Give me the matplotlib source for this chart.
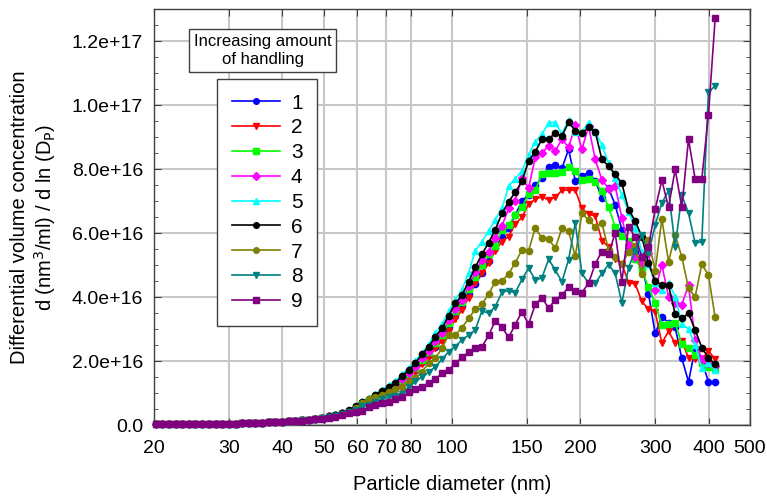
import matplotlib
matplotlib.use("Agg")
import matplotlib.pyplot as plt
from matplotlib.ticker import MultipleLocator, NullLocator, FuncFormatter

plt.rcParams['font.family'] = ['Liberation Sans', 'DejaVu Sans']

# particle diameters (nm), 64 channels per decade
diam = [20.2, 20.9, 21.7, 22.5, 23.3, 24.1, 25.0, 25.9, 26.9, 27.9, 28.9, 30.0, 31.1, 32.2,
        33.4, 34.6, 35.9, 37.2, 38.5, 40.0, 41.4, 42.9, 44.5, 46.1, 47.8, 49.6, 51.4, 53.3,
        55.2, 57.3, 59.4, 61.5, 63.8, 66.1, 68.5, 71.0, 73.7, 76.4, 79.1, 82.0, 85.1, 88.2,
        91.4, 94.7, 98.2, 101.8, 105.5, 109.4, 113.4, 117.6, 121.9, 126.3, 131.0, 135.8,
        140.7, 145.9, 151.2, 156.8, 162.5, 168.5, 174.7, 181.1, 187.7, 194.6, 201.7, 209.1,
        216.7, 224.7, 232.9, 241.4, 250.3, 259.5, 269.0, 278.8, 289.0, 299.6, 310.6, 322.0,
        333.8, 346.0, 358.7, 371.8, 385.4, 399.5, 414.2]

# dV/dlnDp in units of 1e16 nm^3/ml
s1 = [0.02, 0.02, 0.02, 0.02, 0.02, 0.025, 0.025, 0.03, 0.03, 0.035, 0.04, 0.04, 0.045, 0.05,
      0.06, 0.065, 0.07, 0.08, 0.09, 0.10, 0.115, 0.13, 0.15, 0.17, 0.20, 0.23, 0.26,
      0.29, 0.34, 0.42, 0.52, 0.66, 0.74, 0.85, 0.96, 1.07, 1.18, 1.36, 1.52, 1.72, 1.96,
      2.20, 2.45, 2.70, 3.05, 3.40, 3.72, 4.08, 4.40, 4.74, 5.14, 5.52, 5.89, 6.15, 6.55,
      7.00, 7.19, 7.50, 7.71, 8.07, 8.12, 8.02, 8.62, 7.63, 7.78, 7.89, 7.63, 7.10, 7.40,
      6.88, 6.10, 5.60, 5.40, 4.95, 4.10, 2.86, 3.39, 3.20, 3.05, 2.08, 1.35, 2.40, 2.00,
      1.35, 1.35]
s2 = [0.02, 0.02, 0.02, 0.02, 0.02, 0.025, 0.025, 0.03, 0.03, 0.035, 0.04, 0.04, 0.045, 0.05,
      0.06, 0.065, 0.07, 0.08, 0.09, 0.10, 0.115, 0.13, 0.15, 0.17, 0.20, 0.23, 0.26,
      0.29, 0.34, 0.41, 0.50, 0.63, 0.70, 0.82, 0.92, 1.03, 1.14, 1.32, 1.48, 1.66, 1.90,
      2.12, 2.40, 2.62, 2.95, 3.30, 3.60, 3.98, 4.45, 4.74, 5.05, 5.45, 5.73, 5.89, 6.28,
      6.49, 6.91, 7.05, 7.14, 7.03, 7.11, 7.34, 7.34, 7.34, 6.77, 6.59, 6.53, 5.76, 5.57,
      5.18, 5.03, 4.45, 4.41, 3.86, 3.62, 3.54, 2.56, 2.93, 2.55, 2.62, 2.10, 2.05, 2.05,
      2.32, 2.05]
s3 = [0.02, 0.02, 0.02, 0.02, 0.02, 0.025, 0.025, 0.03, 0.03, 0.035, 0.04, 0.04, 0.045, 0.05,
      0.06, 0.065, 0.07, 0.08, 0.09, 0.10, 0.115, 0.13, 0.15, 0.17, 0.20, 0.23, 0.26,
      0.30, 0.36, 0.44, 0.55, 0.68, 0.76, 0.88, 0.99, 1.10, 1.22, 1.42, 1.58, 1.78, 2.04,
      2.28, 2.55, 2.80, 3.18, 3.55, 3.85, 4.25, 4.62, 5.00, 5.34, 5.60, 6.10, 6.25, 6.56,
      6.80, 7.22, 7.34, 7.84, 7.89, 7.89, 7.92, 8.07, 7.94, 7.66, 7.70, 7.60, 7.30, 6.80,
      6.20, 5.92, 5.75, 5.20, 4.84, 4.30, 3.80, 3.12, 3.16, 3.20, 2.52, 2.42, 2.20, 1.95,
      1.82, 1.74]
s4 = [0.02, 0.02, 0.02, 0.02, 0.02, 0.025, 0.025, 0.03, 0.03, 0.035, 0.04, 0.04, 0.045, 0.05,
      0.06, 0.065, 0.07, 0.08, 0.09, 0.10, 0.115, 0.13, 0.15, 0.17, 0.20, 0.23, 0.27,
      0.31, 0.37, 0.45, 0.56, 0.70, 0.78, 0.90, 1.01, 1.13, 1.25, 1.45, 1.62, 1.82, 2.10,
      2.32, 2.62, 2.88, 3.28, 3.62, 3.92, 4.35, 4.79, 5.16, 5.42, 5.83, 6.22, 6.77, 7.01,
      7.71, 7.40, 8.36, 8.49, 8.73, 8.57, 8.93, 8.68, 9.36, 8.61, 9.34, 8.30, 7.66, 7.39,
      7.48, 6.46, 5.62, 5.25, 5.07, 5.37, 4.22, 5.00, 4.01, 3.81, 3.76, 4.37, 2.66, 2.05,
      1.95, 1.85]
s5 = [0.02, 0.02, 0.02, 0.02, 0.02, 0.025, 0.025, 0.03, 0.03, 0.035, 0.04, 0.04, 0.045, 0.05,
      0.06, 0.065, 0.07, 0.08, 0.09, 0.10, 0.115, 0.13, 0.15, 0.17, 0.20, 0.23, 0.27,
      0.33, 0.39, 0.48, 0.60, 0.75, 0.84, 0.97, 1.10, 1.24, 1.38, 1.58, 1.78, 2.00, 2.26,
      2.52, 2.86, 3.15, 3.55, 3.92, 4.22, 4.75, 5.45, 5.73, 6.07, 6.41, 6.77, 7.47, 7.70,
      7.93, 8.45, 8.85, 9.08, 9.45, 9.45, 9.10, 9.53, 9.17, 9.17, 9.45, 9.17, 8.75, 8.18,
      7.71, 7.19, 6.67, 6.15, 5.42, 5.02, 4.45, 4.22, 4.45, 4.01, 3.16, 3.00, 2.50, 1.77,
      1.93, 1.72]
s6 = [0.02, 0.02, 0.02, 0.02, 0.02, 0.025, 0.025, 0.03, 0.03, 0.035, 0.04, 0.04, 0.045, 0.05,
      0.06, 0.065, 0.07, 0.08, 0.09, 0.10, 0.115, 0.13, 0.15, 0.17, 0.20, 0.23, 0.27,
      0.32, 0.38, 0.47, 0.58, 0.72, 0.80, 0.94, 1.06, 1.18, 1.31, 1.54, 1.71, 1.93, 2.22,
      2.45, 2.76, 3.02, 3.42, 3.80, 4.06, 4.48, 4.93, 5.34, 5.70, 6.10, 6.62, 6.98, 7.27,
      7.62, 8.25, 8.54, 8.93, 8.95, 9.11, 9.03, 9.46, 9.20, 9.12, 9.30, 9.17, 8.30, 8.09,
      7.84, 7.55, 6.72, 6.38, 5.88, 5.05, 4.50, 4.37, 4.37, 3.46, 3.33, 3.49, 2.97, 2.42,
      2.10, 1.90]
s7 = [0.02, 0.02, 0.02, 0.02, 0.02, 0.025, 0.025, 0.03, 0.03, 0.035, 0.04, 0.04, 0.045, 0.05,
      0.06, 0.065, 0.07, 0.08, 0.09, 0.10, 0.115, 0.13, 0.15, 0.17, 0.20, 0.23, 0.26,
      0.29, 0.34, 0.42, 0.52, 0.70, 0.80, 0.87, 0.94, 1.04, 1.12, 1.20, 1.35, 1.48, 1.67,
      1.93, 2.08, 2.40, 2.81, 2.81, 3.04, 3.33, 3.62, 3.78, 4.09, 4.48, 4.50, 4.73, 5.07,
      5.47, 5.44, 6.17, 5.83, 5.80, 5.53, 6.15, 6.06, 5.27, 6.61, 6.41, 6.19, 6.30, 5.47,
      5.26, 5.03, 5.40, 5.58, 4.71, 5.77, 4.82, 6.44, 5.10, 5.94, 5.25, 4.27, 4.00, 5.03,
      4.68, 3.36]
s8 = [0.02, 0.02, 0.02, 0.02, 0.02, 0.025, 0.025, 0.03, 0.03, 0.035, 0.04, 0.04, 0.045, 0.05,
      0.06, 0.065, 0.07, 0.08, 0.09, 0.10, 0.115, 0.13, 0.15, 0.17, 0.20, 0.23, 0.25,
      0.28, 0.33, 0.40, 0.48, 0.58, 0.64, 0.72, 0.80, 0.88, 0.92, 0.98, 1.18, 1.36, 1.50,
      1.65, 1.82, 2.05, 2.29, 2.45, 2.66, 2.81, 2.97, 3.57, 3.49, 3.70, 4.15, 4.20, 4.13,
      4.55, 4.90, 4.53, 4.60, 5.18, 4.84, 4.48, 5.17, 6.31, 4.74, 4.43, 4.43, 4.74, 5.01,
      4.74, 3.81, 4.92, 5.45, 5.94, 5.36, 6.25, 6.94, 7.32, 5.57, 7.19, 6.62, 5.68, 5.73,
      10.40, 10.60]
s9 = [0.02, 0.02, 0.02, 0.02, 0.02, 0.025, 0.025, 0.03, 0.03, 0.035, 0.04, 0.04, 0.045, 0.05,
      0.06, 0.065, 0.07, 0.08, 0.09, 0.10, 0.11, 0.12, 0.14, 0.16, 0.18, 0.20, 0.22,
      0.25, 0.30, 0.37, 0.40, 0.45, 0.55, 0.63, 0.70, 0.73, 0.80, 0.86, 1.02, 1.11, 1.20,
      1.32, 1.44, 1.61, 1.72, 1.93, 2.11, 2.28, 2.40, 2.45, 2.80, 3.26, 3.05, 2.74, 3.14,
      3.54, 3.15, 3.77, 3.98, 3.65, 3.91, 4.07, 4.30, 4.20, 4.14, 4.43, 5.03, 5.42, 5.33,
      6.00, 4.48, 6.20, 5.87, 5.26, 5.57, 6.74, 7.65, 6.80, 7.99, 6.80, 8.93, 7.69, 7.69,
      9.69, 12.71]

labels = ['1', '2', '3', '4', '5', '6', '7', '8', '9']
colors = ['#0000ff', '#ff0000', '#00ff00', '#ff00ff', '#00ffff', '#000000',
          '#808000', '#008080', '#800080']
markers = ['o', 'v', 's', 'D', '^', 'o', 'o', 'v', 's']
series = [s1, s2, s3, s4, s5, s6, s7, s8, s9]

fig = plt.figure(figsize=(7.67, 4.98), dpi=100)
ax = fig.add_axes([154 / 767, 1 - 425 / 498, 596 / 767, 416 / 498])

for ys, c, m, lab in zip(series, colors, markers, labels):
    ax.plot(diam, [v * 1e16 for v in ys], color=c, marker=m, markersize=4.5,
            markeredgecolor=c, linewidth=1.2, label=lab, clip_on=False, zorder=3)

ax.set_xscale('log')
ax.set_xlim(20, 500)
ax.set_ylim(0, 1.3e17)
xt = [20, 30, 40, 50, 60, 70, 80, 100, 150, 200, 300, 400, 500]
ax.set_xticks(xt)
ax.set_xticklabels([str(v) for v in xt])
ax.xaxis.set_minor_locator(NullLocator())
ax.yaxis.set_major_locator(MultipleLocator(2e16))
ax.yaxis.set_minor_locator(MultipleLocator(0.5e16))
ax.yaxis.set_major_formatter(FuncFormatter(lambda v, p: '0.0' if v == 0 else f'{v:.1e}'))

ax.grid(True, which='major', color='#c8c8c8', linewidth=1.5, zorder=0)
ax.set_axisbelow(True)
ax.tick_params(which='both', direction='in', top=True, right=True, color='#404040')
ax.tick_params(which='major', length=5, labelsize=14, pad=8)
ax.tick_params(axis='x', which='major', pad=11)
ax.tick_params(which='minor', length=3)
for sp in ax.spines.values():
    sp.set_color('#404040')
    sp.set_linewidth(1.0)

ax.set_xlabel('Particle diameter (nm)', fontsize=14.5, labelpad=13)
ax.set_ylabel('Differential volume concentration\nd (nm$^3$/ml) / d ln (D$_\\mathrm{P}$)',
              fontsize=14.5, labelpad=10, linespacing=1.15)

leg = ax.legend(loc='upper left', bbox_to_anchor=(217 / 767, 1 - 79 / 498),
                bbox_transform=fig.transFigure, borderaxespad=0, fontsize=15,
                frameon=True, fancybox=False, edgecolor='#404040', framealpha=1,
                handlelength=2.3, handletextpad=0.55, labelspacing=0.28, borderpad=0.7,
                markerscale=0.9)
leg.get_frame().set_linewidth(1.0)
leg.set_zorder(5)

fig.text(262.5 / 767, 1 - 50.5 / 498, 'Increasing amount\nof handling', ha='center',
         va='center', fontsize=12, linespacing=1.2, zorder=6,
         bbox=dict(boxstyle='square,pad=0.3', fc='white', ec='#404040', lw=1.0))

fig.savefig('out.png', dpi=100)
